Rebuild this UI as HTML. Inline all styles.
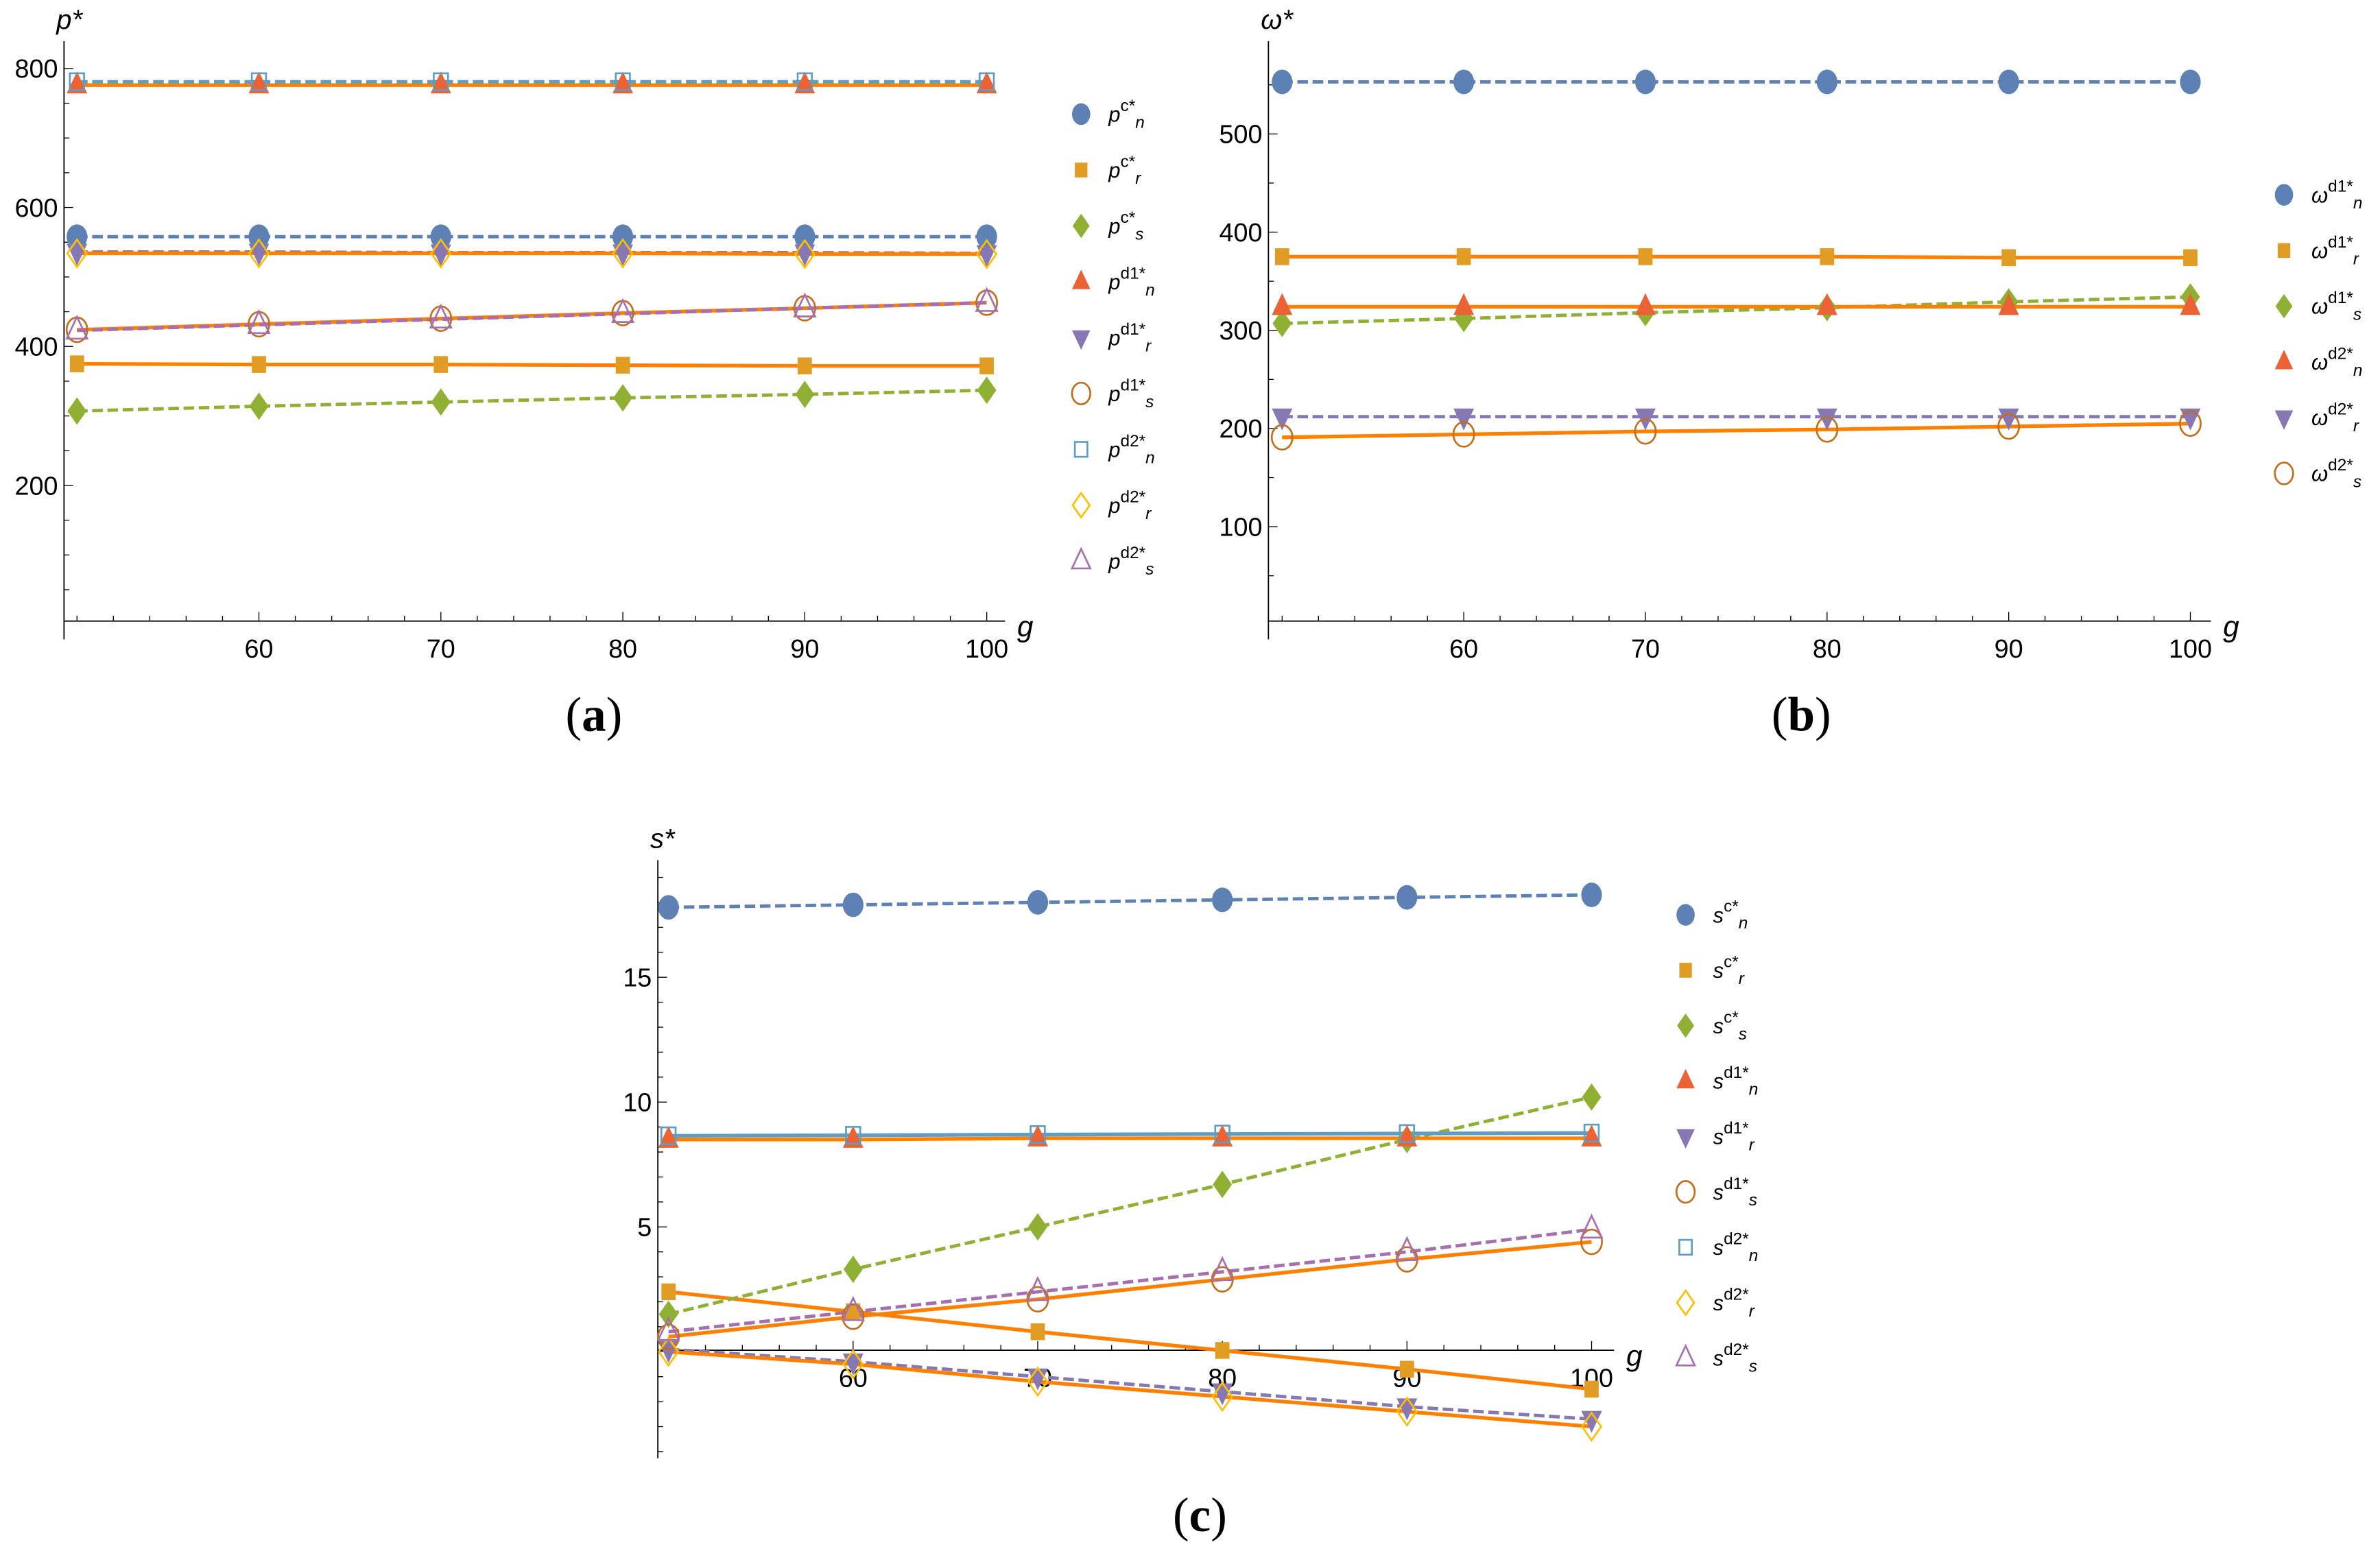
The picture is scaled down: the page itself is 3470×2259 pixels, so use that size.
<!DOCTYPE html>
<html><head><meta charset="utf-8"><style>
html,body{margin:0;padding:0;background:#fff}
svg{display:block}
text{font-family:"Liberation Sans",sans-serif}
text.cap{font-family:"Liberation Serif",serif}
</style></head><body>
<svg id="fig" width="3470" height="2259" viewBox="0 0 1563 1017.6" xmlns="http://www.w3.org/2000/svg"></svg>
<script>
const gVals=[50,60,70,80,90,100];
// panel a
const aNames=['c*|n','c*|r','c*|s','d1*|n','d1*|r','d1*|s','d2*|n','d2*|r','d2*|s'];
const a_pcn=[558,558,558,558,558,558];
const a_pcr=[375,374,374,373,372,372];
const a_pcs=[307,314,320,326,331,337];
const a_pd1n=[776,776,776,776,776,776];
const a_pd1r=[536,536,535,535,535,534];
const a_pd1s=[424,432,440,448,455,463];
const a_pd2n=[781,781,781,781,781,781];
const a_pd2r=[534,534,534,534,533,533];
const a_pd2s=[423,431,439,447,455,463];
const aTicks=[200,400,600,800];
// panel b
const bNames=['d1*|n','d1*|r','d1*|s','d2*|n','d2*|r','d2*|s'];
const b_wd1n=[553,553,553,553,553,553];
const b_wd1r=[375,375,375,375,374,374];
const b_wd1s=[307,312,318,323,329,334];
const b_wd2n=[324,324,324,324,324,324];
const b_wd2r=[212,212,212,212,212,212];
const b_wd2s=[191,194,197,199,202,205];
const bTicks=[100,200,300,400,500];
// panel c
const cNames=['c*|n','c*|r','c*|s','d1*|n','d1*|r','d1*|s','d2*|n','d2*|r','d2*|s'];
const c_scn=[17.8,17.9,18.0,18.1,18.2,18.3];
const c_scr=[2.4,1.6,0.8,0.05,-0.7,-1.5];
const c_scs=[1.5,3.3,5.0,6.7,8.5,10.2];
const c_sd1n=[8.5,8.5,8.55,8.55,8.55,8.55];
const c_sd1r=[0.1,-0.4,-1.0,-1.6,-2.2,-2.7];
const c_sd1s=[0.6,1.4,2.1,2.9,3.7,4.4];
const c_sd2n=[8.65,8.67,8.7,8.72,8.74,8.76];
const c_sd2r=[0.0,-0.5,-1.2,-1.8,-2.4,-3.0];
const c_sd2s=[0.8,1.6,2.4,3.2,4.0,4.9];
const cTicks=[5,10,15];

const NS='http://www.w3.org/2000/svg';
const svg=document.getElementById('fig');
function mk(tag,attrs,parent){const e=document.createElementNS(NS,tag);for(const k in attrs)e.setAttribute(k,attrs[k]);(parent||svg).appendChild(e);return e;}
const BLUE='#5E81B5',OR='#E19C24',GR='#8FB032',RED='#EB6235',PUR='#8778B3',BRN='#C56E1A',LB='#5D9EC7',YEL='#FFBF00',PNK='#A66FB0',LINE='#FF8000';
const mStyles=[['circle',BLUE,true],['square',OR,true],['diamond',GR,true],['tri',RED,true],['dtri',PUR,true],['circle',BRN,false],['square',LB,false],['diamond',YEL,false],['tri',PNK,false]];
function marker(g,kind,col,fill,x,y,s){
  const st=fill?{fill:col,stroke:'none'}:{fill:'none',stroke:col,'stroke-width':1.2};
  if(kind==='circle'){mk('ellipse',Object.assign({cx:x,cy:y,rx:s*0.8,ry:s*0.95},st),g);}
  else if(kind==='square'){mk('rect',Object.assign({x:x-s*0.55,y:y-s*0.65,width:s*1.1,height:s*1.3},st),g);}
  else if(kind==='diamond'){mk('polygon',Object.assign({points:`${x},${y-s} ${x+s*0.7},${y} ${x},${y+s} ${x-s*0.7},${y}`},st),g);}
  else if(kind==='tri'){mk('polygon',Object.assign({points:`${x},${y-s} ${x+s*0.75},${y+s*0.6} ${x-s*0.75},${y+s*0.6}`},st),g);}
  else {mk('polygon',Object.assign({points:`${x},${y+s} ${x+s*0.75},${y-s*0.6} ${x-s*0.75},${y-s*0.6}`},st),g);}
}
function panel(o){
  const P=mk('g',{});
  
  
  const X=v=>o.x0+(v-50)*o.xs, Y=v=>o.y0-(v-o.yv0)*o.ys;
  const ax=mk('g',{},P);
  
  
  mk('line',{x1:o.axX,y1:o.axY,x2:o.xEnd,y2:o.axY,stroke:'#000','stroke-width':0.8},ax);
  mk('line',{x1:o.axX,y1:o.yTop,x2:o.axX,y2:o.yBot,stroke:'#000','stroke-width':0.8},ax);
  for(let g=50;g<=100;g+=2){const x=X(g);const maj=g%10===0&&g>50;mk('line',{x1:x,y1:o.axY,x2:x,y2:o.axY-(maj?6:3.5),stroke:'#000','stroke-width':0.6},ax);}
  [60,70,80,90,100].forEach(g=>{const t=mk('text',{x:X(g),y:o.axY+24,'text-anchor':'middle','font-size':17},ax);t.textContent=g;});
  for(let v=o.minorStart;Y(v)>=o.yTop;v+=o.minor){const y=Y(v);if(y>o.yBot)continue;const maj=o.ticks.some(t=>Math.abs(t-v)<1e-9);mk('line',{x1:o.axX,y1:y,x2:o.axX+(maj?6:3.5),y2:y,stroke:'#000','stroke-width':0.6},ax);}
  o.ticks.forEach(v=>{const t=mk('text',{x:o.axX-4,y:Y(v)+6,'text-anchor':'end','font-size':17},ax);t.textContent=v;});
  const gl=mk('text',{x:o.xEnd+8,y:o.axY+10,'font-size':19,'font-style':'italic'},P);gl.textContent='g';
  
  const yl=mk('text',{x:o.axX-5,y:o.yTop-8,'font-size':18,'font-style':'italic'},P);yl.textContent=o.sym+'*';
  
  o.series.forEach((s,i)=>{
    const pts=s.vals.map((v,k)=>X(gVals[k])+','+Y(v)).join(' ');
    const l=mk('polyline',{points:pts,fill:'none',stroke:s.lc,'stroke-width':s.dash?2.2:2.4,'stroke-dasharray':s.dash?'7,3':'none'},P);
    
  });
  o.series.forEach((s,i)=>{
    const st=mStyles[s.m];const g=mk('g',{},P);
    
    s.vals.forEach((v,k)=>marker(g,st[0],st[1],st[2],X(gVals[k]),Y(v),st[0]==='circle'?8.5:(st[0]==='square'?8.5:9)));
  });
  o.series.forEach((s,i)=>{
    const st=mStyles[s.m];const y=o.legY+i*o.legDy;
    const g=mk('g',{},P);
    
    marker(g,st[0],st[1],st[2],o.legX,y,st[0]==='circle'?7.5:(st[0]==='square'?7.5:8));
    const [sup,sub]=s.lbl.split('|');
    const t=mk('text',{x:o.legX+18,y:y+5,'font-size':14,'font-style':'italic'},g);
    t.textContent=o.sym;
    const ts=mk('tspan',{dy:-7,'font-size':11,'font-style':'normal'},t);ts.textContent=sup;
    const tb=mk('tspan',{dy:11,'font-size':11},t);tb.textContent=sub;
  });
}
const sA=[a_pcn,a_pcr,a_pcs,a_pd1n,a_pd1r,a_pd1s,a_pd2n,a_pd2r,a_pd2s];
const lcA=[[BLUE,1],[LINE,0],[GR,1],[LINE,0],[PUR,1],[LINE,0],[LB,1],[LINE,0],[PNK,1]];
panel({name:'panel-a',sym:'p',x0:50.5,xs:11.95,y0:45,yv0:800,ys:91.3/200,axX:42,axY:408,xEnd:660,yTop:27,yBot:420,ticks:aTicks,minor:50,minorStart:50,legX:710,legY:75,legDy:36.7,
  series:sA.map((v,i)=>({id:'p'+i,vals:v,m:i,lc:lcA[i][0],dash:lcA[i][1],lbl:aNames[i]}))});
const sB=[b_wd1n,b_wd1r,b_wd1s,b_wd2n,b_wd2r,b_wd2s];
const lcB=[[BLUE,1],[LINE,0],[GR,1],[LINE,0],[PUR,1],[LINE,0]];
panel({name:'panel-b',sym:'ω',x0:842,xs:11.93,y0:88,yv0:500,ys:64.5/100,axX:833,axY:408,xEnd:1452,yTop:27,yBot:420,ticks:bTicks,minor:50,minorStart:50,legX:1500,legY:128,legDy:36.6,
  series:sB.map((v,i)=>({id:'w'+i,vals:v,m:i,lc:lcB[i][0],dash:lcB[i][1],lbl:bNames[i]}))});
const sC=[c_scn,c_scr,c_scs,c_sd1n,c_sd1r,c_sd1s,c_sd2n,c_sd2r,c_sd2s];
const lcC=[[BLUE,1],[LINE,0],[GR,1],[LINE,0],[PUR,1],[LINE,0],[LB,0],[LINE,0],[PNK,1]];
panel({name:'panel-c',sym:'s',x0:439,xs:12.125,y0:888,yv0:0,ys:16.4,axX:432,axY:887,xEnd:1060,yTop:565,yBot:958,ticks:cTicks,minor:1,minorStart:-4,legX:1107,legY:601,legDy:36.4,
  series:sC.map((v,i)=>({id:'s'+i,vals:v,m:i,lc:lcC[i][0],dash:lcC[i][1],lbl:cNames[i]}))});
[['a',390,480],['b',1183,480],['c',788,1006]].forEach(([s,x,y])=>{
  const t=mk('text',{x:x,y:y,'text-anchor':'middle','font-size':32,'class':'cap'});
  t.textContent='(';
  const b=mk('tspan',{'font-weight':'bold'},t);b.textContent=s;
  const c=mk('tspan',{},t);c.textContent=')';
  
  
});
</script>
</body></html>
